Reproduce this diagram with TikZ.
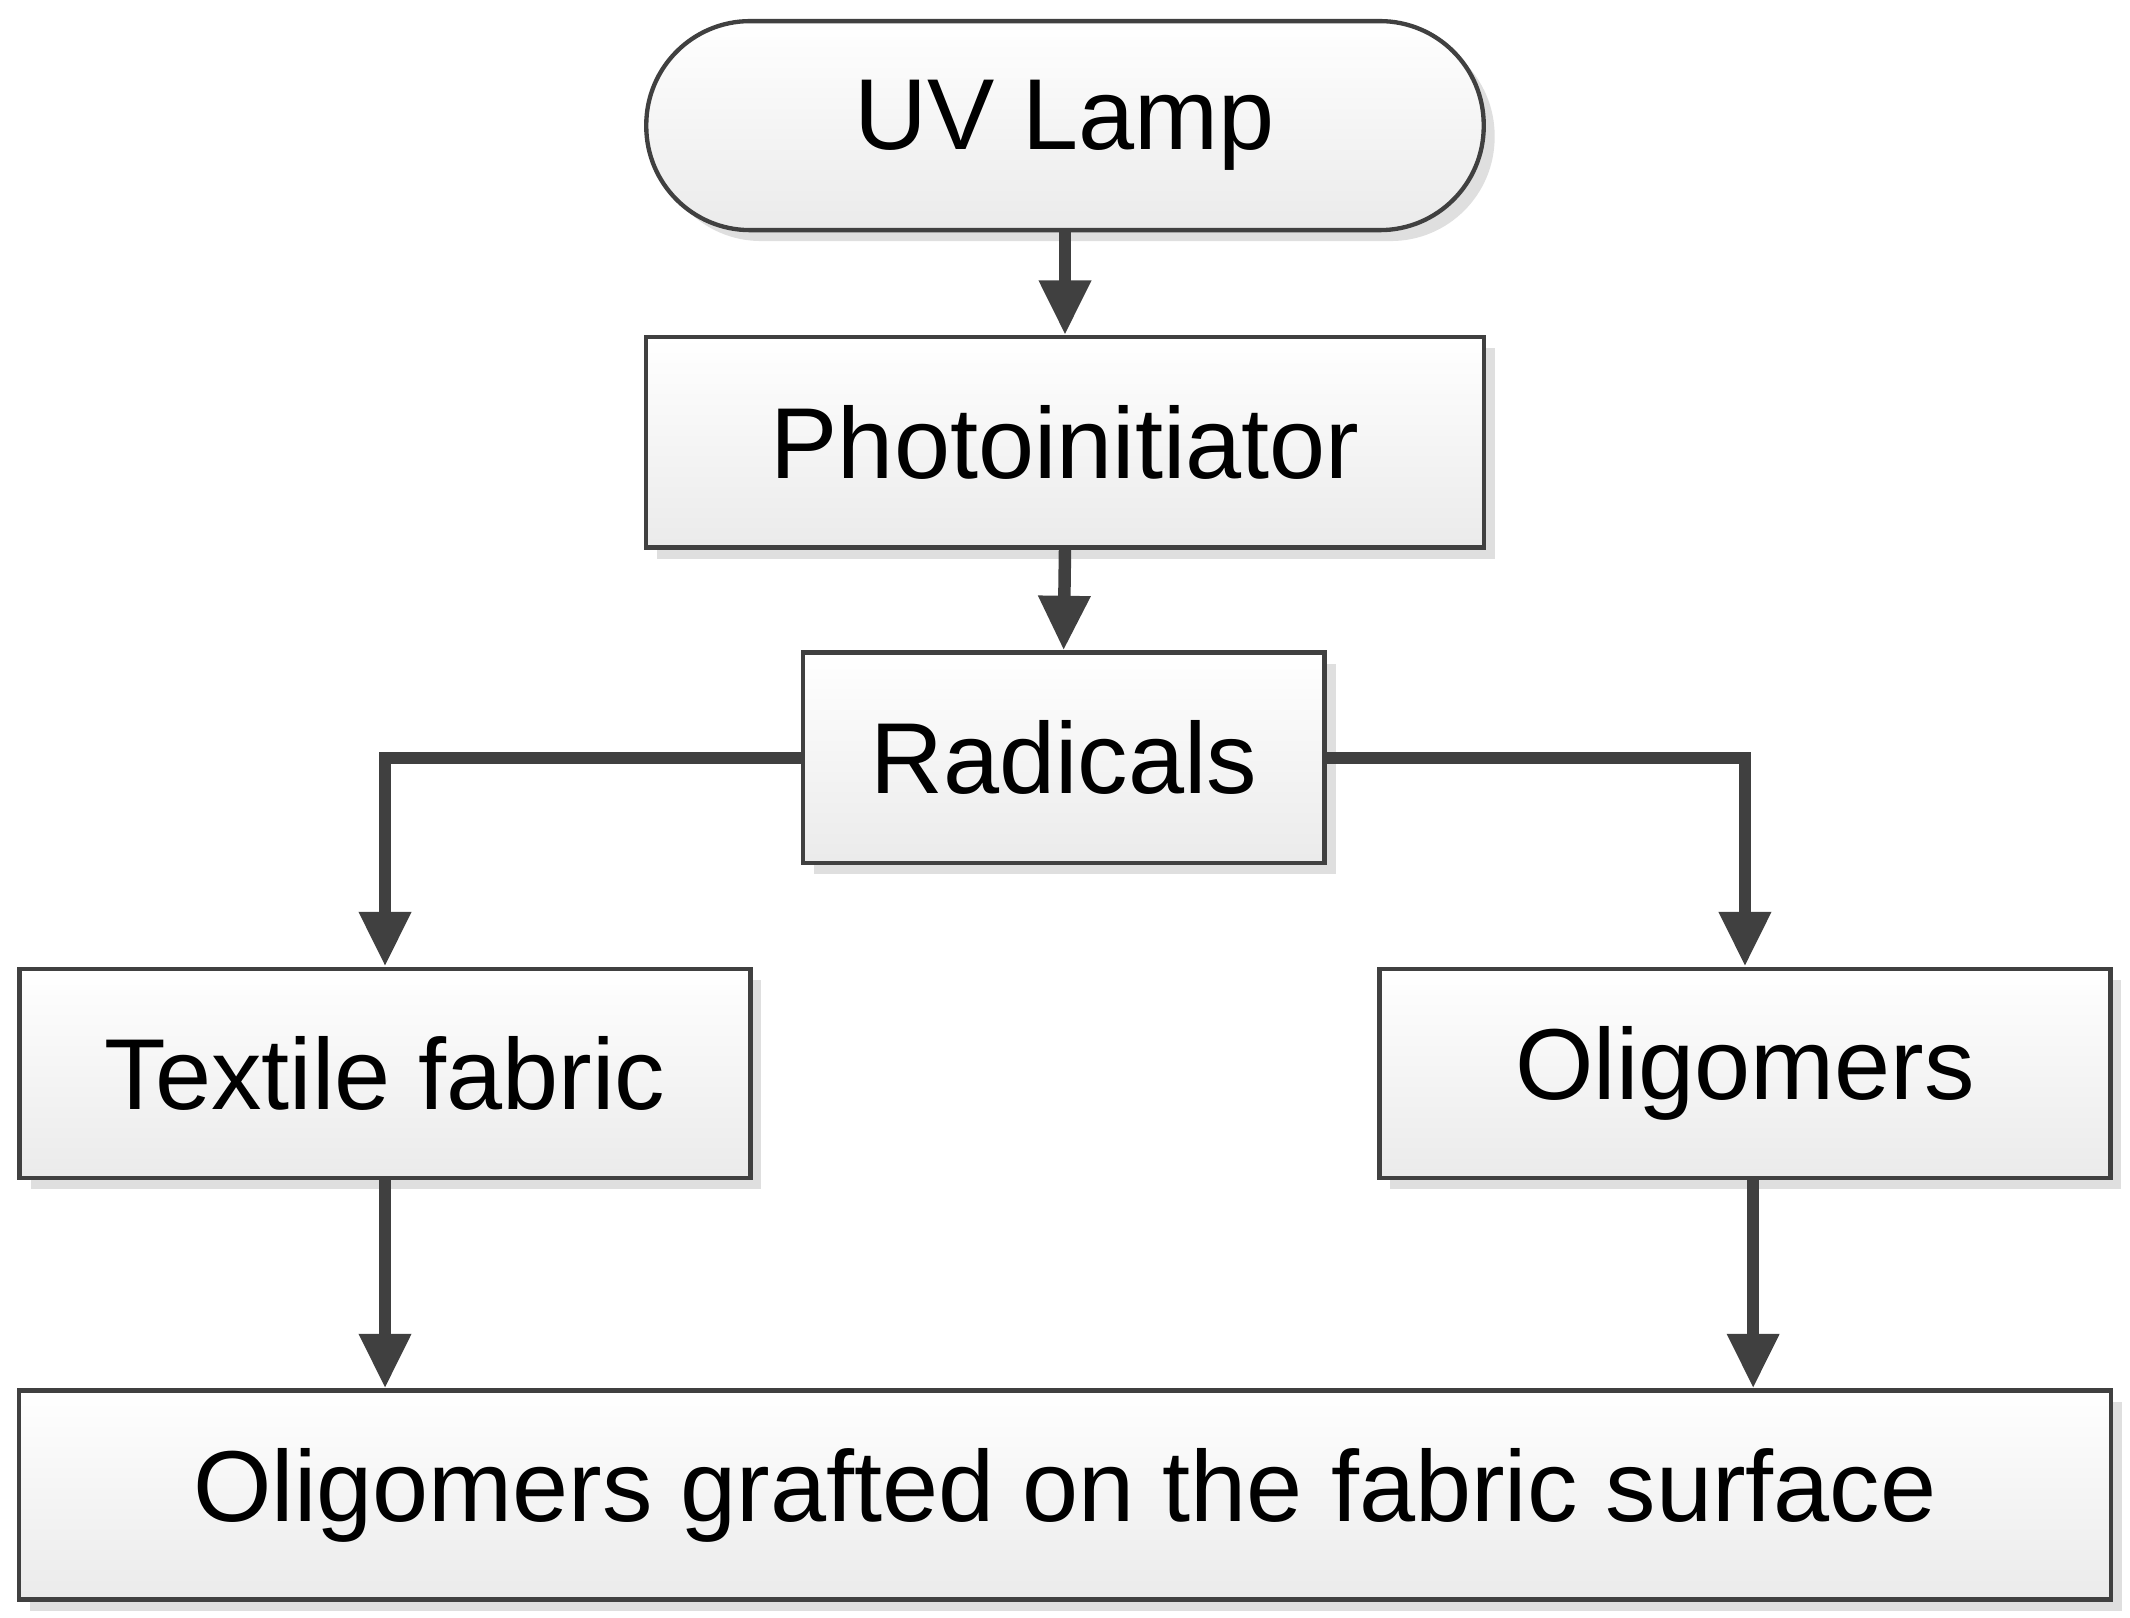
\documentclass[tikz,border=0pt]{standalone}
\usepackage{fontspec}
\setmainfont{Liberation Sans}
\usetikzlibrary{shadows,arrows.meta}
\definecolor{ln}{HTML}{404040}
\tikzset{
  box/.style={draw=ln, line width=0.9pt, top color=white, bottom color=gray!16,
    drop shadow={shadow xshift=0.08cm, shadow yshift=-0.08cm, fill=gray!25, opacity=1},
    font=\fontsize{21}{25}\selectfont, inner sep=0pt},
  arr/.style={draw=ln, line width=2.6pt, -{Triangle[length=0.4cm,width=0.36cm]}}
}
\begin{document}
\begin{tikzpicture}[x=0.01cm,y=-0.01cm]
\useasboundingbox (0,0) rectangle (1560,1185);
\node[box, rounded corners=0.76cm, minimum width=6.13cm, minimum height=1.53cm] (uv) at (780,92) {UV Lamp};
\node[box, minimum width=6.13cm, minimum height=1.54cm] (ph) at (780,324) {Photoinitiator};
\node[box, minimum width=3.82cm, minimum height=1.54cm] (ra) at (779,555) {Radicals};
\node[box, minimum width=5.35cm, minimum height=1.53cm] (tf) at (282,786) {Textile fabric};
\node[box, minimum width=5.35cm, minimum height=1.53cm] (ol) at (1278,786) {Oligomers};
\node[box, minimum width=15.31cm, minimum height=1.53cm] (bt) at (780,1095) {Oligomers grafted on the fabric surface};
\draw[arr] (uv.south) -- (ph.north);
\draw[arr] (ph.south) -- (ra.north);
\draw[arr] (ra.west) -| (tf.north);
\draw[arr] (ra.east) -| (ol.north);
\draw[arr] (tf.south) -- (tf.south |- bt.north);
\draw[arr] ([xshift=0.06cm]ol.south) -- ([xshift=0.06cm]ol.south |- bt.north);
\end{tikzpicture}
\end{document}
